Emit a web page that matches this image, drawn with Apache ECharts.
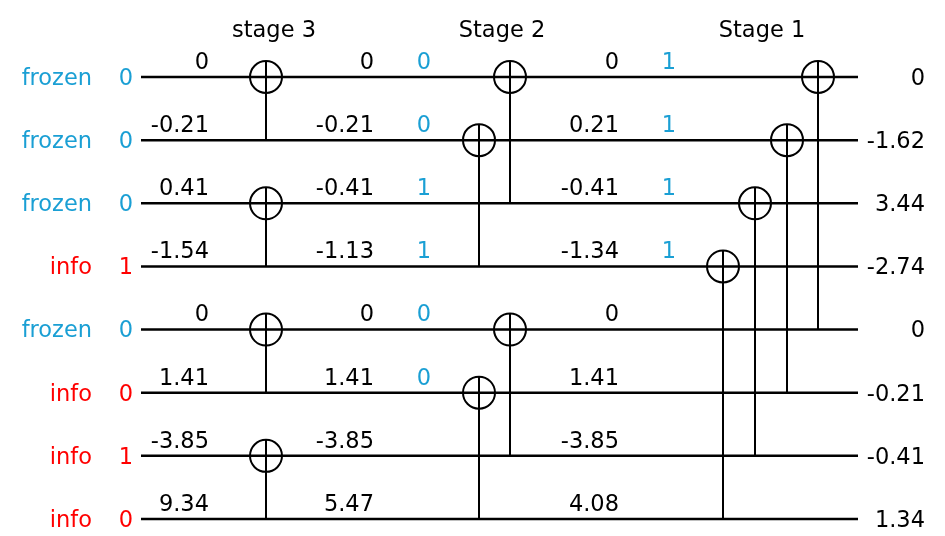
<!DOCTYPE html>
<html>
<head>
<meta charset="utf-8" />
<title>Polar encoding stages</title>
<script src="https://cdn.jsdelivr.net/npm/echarts@6/dist/echarts.min.js"></script>
<style>
  html, body { margin: 0; padding: 0; background: #fff; }
  #main { width: 945px; height: 536px; }
</style>
</head>
<body>
<div id="main"></div>
<script>
// ---- data ----
var rowNames = ['frozen', 'frozen', 'frozen', 'info', 'frozen', 'info', 'info', 'info'];
var inputBits = ['0', '0', '0', '1', '0', '0', '1', '0'];
var stage3Llr = ['0', '-0.21', '0.41', '-1.54', '0', '1.41', '-3.85', '9.34'];
var stage2Llr = ['0', '-0.21', '-0.41', '-1.13', '0', '1.41', '-3.85', '5.47'];
var stage2Bits = ['0', '0', '1', '1', '0', '0', '', ''];
var stage1Llr = ['0', '0.21', '-0.41', '-1.34', '0', '1.41', '-3.85', '4.08'];
var stage1Bits = ['1', '1', '1', '1', '', '', '', ''];
var outputLlr = ['0', '-1.62', '3.44', '-2.74', '0', '-0.21', '-0.41', '1.34'];
var stageNames = ['stage 3', 'Stage 2', 'Stage 1'];
// xor gates: [target row, control row]
var stage3Gates = [[0, 1], [2, 3], [4, 5], [6, 7]];
var stage2Gates = [[0, 2], [1, 3], [4, 6], [5, 7]];
var stage1Gates = [[0, 4], [1, 5], [2, 6], [3, 7]];

// ---- layout ----
var wireX = [141, 858];
var stage3X = [266, 266, 266, 266];
var stage2X = [510, 479, 510, 479];
var stage1X = [818, 787, 755, 723];
var titleX = [274, 502, 762];
var titleRow = -0.765;
var R = 16;
var BLUE = '#1a9fd4';
var RED = '#ff0000';
var FONT = 'DejaVu Sans';
var SHIFT = 2; // nudges glyphs down to sit like the original

var gates = [];
stage3Gates.forEach(function (g, i) { gates.push([stage3X[i], g[0], g[1]]); });
stage2Gates.forEach(function (g, i) { gates.push([stage2X[i], g[0], g[1]]); });
stage1Gates.forEach(function (g, i) { gates.push([stage1X[i], g[0], g[1]]); });

// text items: [x, row, text, color, align, dy]
var texts = [];
rowNames.forEach(function (n, i) {
  var c = n === 'info' ? RED : BLUE;
  texts.push([92, i, n, c, 'right', 0]);
  texts.push([126, i, inputBits[i], c, 'center', 0]);
  texts.push([209, i, stage3Llr[i], '#000', 'right', -16]);
  texts.push([374, i, stage2Llr[i], '#000', 'right', -16]);
  texts.push([424, i, stage2Bits[i], BLUE, 'center', -16]);
  texts.push([619, i, stage1Llr[i], '#000', 'right', -16]);
  texts.push([669, i, stage1Bits[i], BLUE, 'center', -16]);
  texts.push([925, i, outputLlr[i], '#000', 'right', 0]);
});
stageNames.forEach(function (s, i) {
  texts.push([titleX[i], titleRow, s, '#000', 'center', 0]);
});

var chart = echarts.init(document.getElementById('main'));
chart.setOption({
  animation: false,
  grid: { left: 0, right: 0, top: 77, bottom: 17 },
  xAxis: { type: 'value', min: 0, max: 945, show: false },
  yAxis: { type: 'value', min: 0, max: 7, inverse: true, show: false },
  series: [
    {
      type: 'custom',
      data: rowNames.map(function (n, i) { return [i]; }),
      renderItem: function (params, api) {
        var a = api.coord([wireX[0], api.value(0)]);
        var b = api.coord([wireX[1], api.value(0)]);
        return {
          type: 'line',
          shape: { x1: a[0], y1: a[1], x2: b[0], y2: b[1] },
          style: { stroke: '#000', lineWidth: 2.5 }
        };
      }
    },
    {
      type: 'custom',
      data: gates,
      renderItem: function (params, api) {
        var t = api.coord([api.value(0), api.value(1)]);
        var c = api.coord([api.value(0), api.value(2)]);
        return {
          type: 'group',
          children: [
            {
              type: 'circle',
              shape: { cx: t[0], cy: t[1], r: R },
              style: { fill: 'none', stroke: '#000', lineWidth: 2 }
            },
            {
              type: 'line',
              shape: { x1: t[0], y1: t[1] - R, x2: c[0], y2: c[1] },
              style: { stroke: '#000', lineWidth: 2 }
            }
          ]
        };
      }
    },
    {
      type: 'custom',
      data: texts,
      renderItem: function (params, api) {
        var d = texts[params.dataIndex];
        var p = api.coord([d[0], d[1]]);
        return {
          type: 'text',
          x: p[0],
          y: p[1] + d[5] + SHIFT,
          style: {
            text: d[2],
            fill: d[3],
            align: d[4],
            verticalAlign: 'middle',
            fontSize: 22.5,
            fontFamily: FONT
          }
        };
      }
    }
  ]
});
</script>
</body>
</html>
